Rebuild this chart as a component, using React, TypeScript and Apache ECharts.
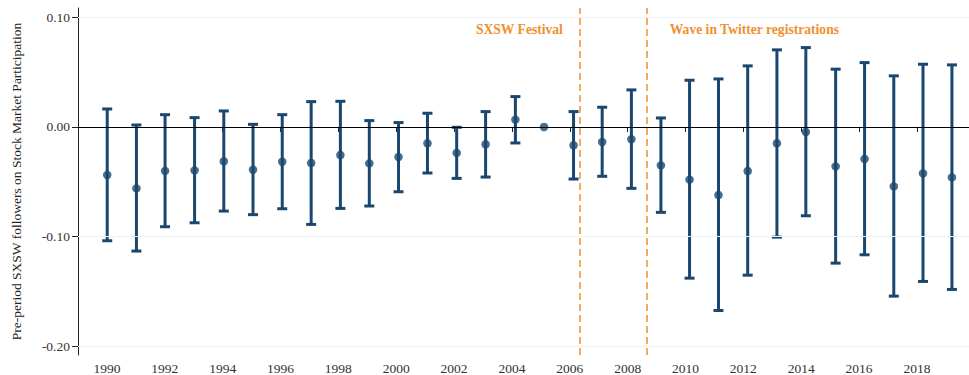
import React, { useEffect, useRef } from "react";
import * as echarts from "echarts";

const years = [1990, 1991, 1992, 1993, 1994, 1995, 1996, 1997, 1998, 1999, 2000, 2001, 2002, 2003, 2004, 2005, 2006, 2007, 2008, 2009, 2010, 2011, 2012, 2013, 2014, 2015, 2016, 2017, 2018, 2019];
// plotted horizontal positions (in axis units)
const xPositions = [1990.01, 1991.02, 1992.01, 1993.03, 1994.04, 1995.05, 1996.06, 1997.06, 1998.07, 1999.07, 2000.08, 2001.08, 2002.09, 2003.09, 2004.12, 2005.11, 2006.13, 2007.12, 2008.13, 2009.15, 2010.14, 2011.14, 2012.15, 2013.16, 2014.16, 2015.19, 2016.19, 2017.2, 2018.21, 2019.21];
const estimates = [-0.0438, -0.056, -0.04, -0.0396, -0.0313, -0.039, -0.0317, -0.0329, -0.0256, -0.0332, -0.0274, -0.0149, -0.0237, -0.0158, 0.0067, 0, -0.0167, -0.0137, -0.0112, -0.035, -0.0481, -0.0621, -0.0402, -0.0149, -0.0046, -0.0359, -0.0292, -0.0542, -0.0423, -0.046];
const upper = [0.0164, 0.0018, 0.0112, 0.0085, 0.0146, 0.0024, 0.0112, 0.0231, 0.0234, 0.0058, 0.004, 0.0125, -0.0003, 0.014, 0.0277, null, 0.014, 0.018, 0.0338, 0.0082, 0.0426, 0.0438, 0.0557, 0.0703, 0.0724, 0.0527, 0.0587, 0.0466, 0.0572, 0.0566];
const lower = [-0.1038, -0.1132, -0.091, -0.0874, -0.0767, -0.08, -0.0746, -0.0889, -0.0743, -0.0721, -0.0591, -0.042, -0.0469, -0.0457, -0.0146, null, -0.0475, -0.045, -0.056, -0.0779, -0.1379, -0.1674, -0.1352, -0.1005, -0.081, -0.1242, -0.1166, -0.1543, -0.1409, -0.1482];
const xTickValues = [1990, 1992, 1994, 1996, 1998, 2000, 2002, 2004, 2006, 2008, 2010, 2012, 2014, 2016, 2018];
const yTickValues = [-0.2, -0.1, 0, 0.1];
const eventLines = [2006.35, 2008.66];
const eventLabels = ["SXSW Festival", "Wave in Twitter registrations"];
const yTitle = "Pre-period SXSW followers on Stock Market Participation";

const NAVY = "#1a476f";
const ORANGE = "#f0902f";
const FONT = "Liberation Serif";

export default function App() {
  const ref = useRef<HTMLDivElement>(null);
  useEffect(() => {
    if (!ref.current) return;
    const chart = echarts.init(ref.current, null, { renderer: "svg" });
    const barData = years
      .map((y, i) => [xPositions[i], lower[i], upper[i]])
      .filter((d) => d[1] !== null && d[2] !== null);
    const pointData = years.map((y, i) => [xPositions[i], estimates[i]]);
    chart.setOption({
      animation: false,
      grid: { left: 78, right: 0, top: 8, bottom: 20, containLabel: false },
      xAxis: {
        type: "value",
        min: 1989,
        max: 2019.8,
        axisLine: { show: true, lineStyle: { color: "#222", width: 1 } },
        axisTick: { show: true, customValues: xTickValues, length: 5, lineStyle: { color: "#222" } },
        axisLabel: {
          customValues: xTickValues,
          fontFamily: FONT,
          fontSize: 13.5,
          color: "#333",
          margin: 6,
          formatter: (v: number) => String(v),
        },
        splitLine: { show: false },
      },
      yAxis: {
        type: "value",
        min: -0.208,
        max: 0.1085,
        name: yTitle,
        nameLocation: "middle",
        nameGap: 55,
        nameTextStyle: { fontFamily: FONT, fontSize: 13.5, color: "#222" },
        axisLine: { show: true, lineStyle: { color: "#222", width: 1 } },
        axisTick: { show: true, customValues: yTickValues, length: 6, lineStyle: { color: "#222" } },
        axisLabel: {
          customValues: yTickValues,
          fontFamily: FONT,
          fontSize: 13.5,
          color: "#333",
          margin: 8,
          formatter: (v: number) => v.toFixed(2),
        },
        splitLine: { show: false },
      },
      series: [
        {
          type: "line",
          data: [],
          silent: true,
          z: 1,
          markLine: {
            silent: true,
            symbol: "none",
            label: { show: false },
            data: [
              ...yTickValues.filter((v) => v !== 0).map((v) => ({ yAxis: v, lineStyle: { color: "#eaf2f3", width: 1, type: "solid" } })),
              { yAxis: 0, lineStyle: { color: "#000", width: 1.2, type: "solid" } },
              ...eventLines.map((v) => ({ xAxis: v, lineStyle: { color: ORANGE, width: 1.5, type: [7, 4] } })),
            ],
          },
        },
        {
          type: "custom",
          z: 3,
          data: barData,
          renderItem: (params: any, api: any) => {
            const x = api.value(0);
            const lo = api.value(1);
            const hi = api.value(2);
            const pLo = api.coord([x, lo]);
            const pHi = api.coord([x, hi]);
            const half = 5;
            const st = { stroke: NAVY, lineWidth: 3 };
            return {
              type: "group",
              children: [
                { type: "line", shape: { x1: pHi[0], y1: pHi[1], x2: pLo[0], y2: pLo[1] }, style: st },
                { type: "line", shape: { x1: pHi[0] - half, y1: pHi[1], x2: pHi[0] + half, y2: pHi[1] }, style: st },
                { type: "line", shape: { x1: pLo[0] - half, y1: pLo[1], x2: pLo[0] + half, y2: pLo[1] }, style: st },
              ],
            };
          },
        },
        {
          type: "scatter",
          z: 4,
          data: pointData,
          symbol: "circle",
          symbolSize: 8.5,
          itemStyle: { color: NAVY },
        },
      ],
    });
    const p1 = chart.convertToPixel({ xAxisIndex: 0, yAxisIndex: 0 }, [eventLines[0], 0.0886]) as number[];
    const p2 = chart.convertToPixel({ xAxisIndex: 0, yAxisIndex: 0 }, [eventLines[1], 0.0886]) as number[];
    chart.setOption({
      graphic: [
        {
          type: "text",
          x: p1[0] - 17,
          y: p1[1],
          style: { text: eventLabels[0], fill: ORANGE, font: `bold 13.6px "${FONT}"`, align: "right", verticalAlign: "middle" },
        },
        {
          type: "text",
          x: p2[0] + 23,
          y: p2[1],
          style: { text: eventLabels[1], fill: ORANGE, font: `bold 13.6px "${FONT}"`, align: "left", verticalAlign: "middle" },
        },
      ],
    });
    return () => chart.dispose();
  }, []);
  return <div ref={ref} style={{ position: "absolute", left: 0, top: 0, width: 969, height: 375, background: "#fff" }} />;
}
